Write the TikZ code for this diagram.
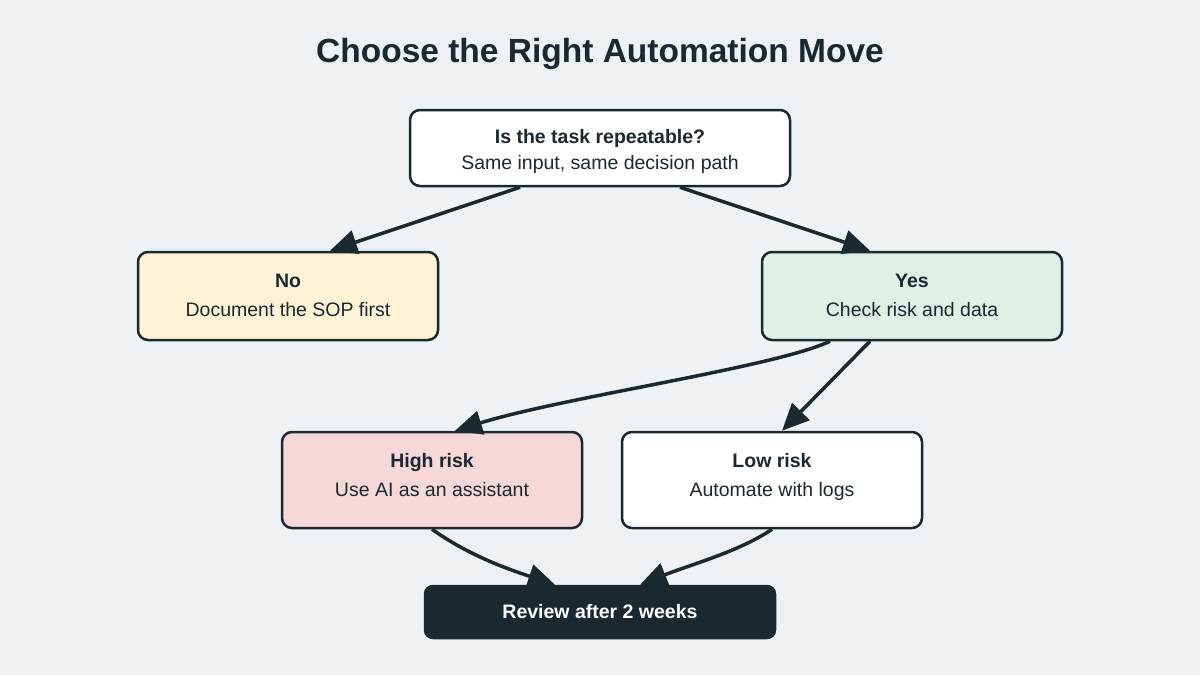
\documentclass[tikz,border=0pt]{standalone}
\usepackage{fontspec}
\setmainfont{Liberation Sans}
\usetikzlibrary{arrows.meta}
\definecolor{bgc}{HTML}{EEF2F4}
\definecolor{ink}{HTML}{1B2830}
\definecolor{cream}{HTML}{FFF3D6}
\definecolor{mint}{HTML}{DFF0E5}
\definecolor{rose}{HTML}{F6D8D8}
\tikzset{
  box/.style={draw=ink, line width=2.5pt, rounded corners=10pt,
    minimum width=300pt, inner sep=0pt},
  txt/.style={align=center, text=ink, font=\fontsize{19.5}{29}\selectfont,
    inner sep=0pt, anchor=north},
  arr/.style={draw=ink, line width=3.5pt, -{Triangle[length=27pt,width=24pt]}},
}
\begin{document}
\begin{tikzpicture}[x=1pt,y=-1pt]
\fill[bgc] (0,0) rectangle (1200,675);
\useasboundingbox (0,0) rectangle (1200,675);
\node[text=ink, font=\fontsize{33.5}{40}\selectfont\bfseries] (title) at (600,54) {Choose the Right Automation Move};
\node[box, fill=white, minimum width=380pt, minimum height=76pt] (top) at (600,148) {};
\node[box, fill=cream, minimum height=88pt] (no) at (288,296) {};
\node[box, fill=mint, minimum height=88pt] (yes) at (912,296) {};
\node[box, fill=rose, minimum height=96pt] (high) at (432,480) {};
\node[box, fill=white, minimum height=96pt] (low) at (772,480) {};
\node[box, fill=ink, text=white, font=\fontsize{19.5}{28}\selectfont\bfseries, minimum width=350pt, minimum height=52pt, rounded corners=8pt] (review) at (600,612)
  {Review after 2 weeks};
\node[txt, font=\fontsize{19.5}{26}\selectfont] (topT) at ([yshift=-20pt]top.north)
  {{\bfseries Is the task repeatable?}\\Same input, same decision path};
\node[txt] (noT) at ([yshift=-23pt]no.north) {{\bfseries No}\\Document the SOP first};
\node[txt] (yesT) at ([yshift=-23pt]yes.north) {{\bfseries Yes}\\Check risk and data};
\node[txt] (highT) at ([yshift=-22.5pt]high.north) {{\bfseries High risk}\\Use AI as an assistant};
\node[txt] (lowT) at ([yshift=-22.5pt]low.north) {{\bfseries Low risk}\\Automate with logs};
\draw[arr] ([xshift=-80pt]top.south) -- ([xshift=42pt]no.north);
\draw[arr] ([xshift=80pt]top.south) -- ([xshift=-42pt]yes.north);
\draw[arr] ([xshift=-82pt]yes.south) .. controls +(-55,26) and +(110,-34) .. ([xshift=23pt]high.north);
\draw[arr] ([xshift=-42pt]yes.south) -- ([xshift=10pt]low.north);
\draw[arr] (high.south) .. controls +(38,27) and +(-45,-15) .. ([xshift=-45pt]review.north);
\draw[arr] (low.south) .. controls +(-32,22) and +(50,-20) .. ([xshift=40pt]review.north);
\end{tikzpicture}
\end{document}
